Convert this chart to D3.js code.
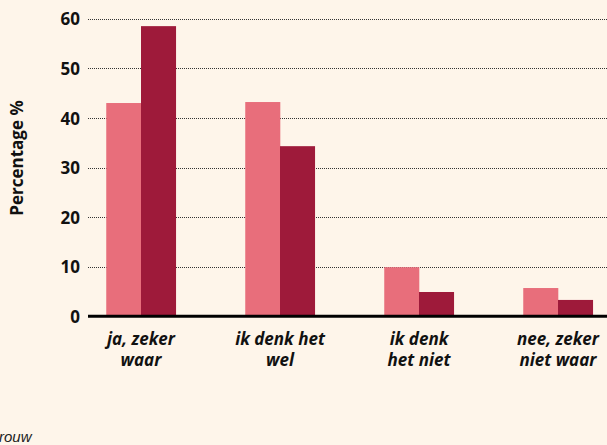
<!DOCTYPE html>
<html><head><meta charset="utf-8">
<script src="https://cdn.jsdelivr.net/npm/d3@7"></script>
<style>
html,body{margin:0;padding:0;background:#fef5ea;overflow:hidden;}
svg{display:block;}
</style></head>
<body>
<svg id="c" width="607" height="445"></svg>
<script>
const categories = [["ja, zeker","waar"],["ik denk het","wel"],["ik denk","het niet"],["nee, zeker","niet waar"]];
const seriesNames = ["a","b"];
const seriesA = [43.0, 43.2, 9.9, 5.7];
const seriesB = [58.5, 34.3, 4.9, 3.3];
const yTicks = [0,10,20,30,40,50,60];
const colors = ["#e86e7b","#9e1a3a"];
const yTitle = "Percentage %";
const footnote = "rouw";

const svg = d3.select("#c");
const W = 607, H = 445;
svg.append("rect").attr("width",W).attr("height",H).attr("fill","#fef5ea");

const y = d3.scaleLinear().domain([0,60]).range([316.3,18.7]);
const x0 = d3.scaleBand().domain(d3.range(categories.length)).range([71.5,627.5]).paddingInner(0.5).paddingOuter(0.25);
const x1 = d3.scaleBand().domain(seriesNames).range([0,x0.bandwidth()]);

// gridlines
const grid = svg.append("g");
grid.selectAll("line").data(yTicks.filter(t=>t>0)).join("line")
  .attr("x1",88).attr("x2",W)
  .attr("y1",d=>Math.round(y(d))+0.5).attr("y2",d=>Math.round(y(d))+0.5)
  .attr("stroke","#333").attr("stroke-width",1).attr("stroke-dasharray","1,1");

// bars
const data = categories.map((c,i)=>({i, vals:[seriesA[i],seriesB[i]]}));
const g = svg.append("g");
g.selectAll("g").data(data).join("g")
  .attr("transform",d=>`translate(${x0(d.i)},0)`)
  .selectAll("rect").data(d=>d.vals.map((v,k)=>({k,v}))).join("rect")
  .attr("x",d=>x1(seriesNames[d.k])).attr("width",x1.bandwidth()+0.3)
  .attr("y",d=>y(d.v)).attr("height",d=>y(0)-y(d.v))
  .attr("fill",d=>colors[d.k]);

// baseline
svg.append("line").attr("x1",88).attr("x2",W).attr("y1",y(0)).attr("y2",y(0))
  .attr("stroke","#000").attr("stroke-width",3);

// y axis labels
const yAxis = d3.axisLeft(y).tickValues(yTicks).tickSize(0).tickPadding(0);
const ya = svg.append("g").attr("transform","translate(80,0)").call(yAxis);
ya.select(".domain").remove();
ya.selectAll("text").attr("font-family","'Open Sans', sans-serif").attr("font-weight","bold")
  .attr("font-size","17px").attr("fill","#111").attr("dy","0.36em");

// y title
svg.append("text").attr("transform","translate(23,158) rotate(-90)")
  .attr("text-anchor","middle").attr("font-family","'Open Sans', sans-serif")
  .attr("font-weight","bold").attr("font-size","17px").attr("fill","#111").text(yTitle);

// x labels
const xl = svg.append("g");
xl.selectAll("text").data(categories).join("text")
  .attr("x",(d,i)=>x0(i)+x0.bandwidth()/2).attr("y",344.5)
  .attr("text-anchor","middle").attr("font-family","'Open Sans', sans-serif")
  .attr("font-weight","bold").attr("font-style","italic").attr("font-size","17px").attr("fill","#111")
  .each(function(d){
    const t = d3.select(this);
    d.forEach((line,k)=>{
      t.append("tspan").attr("x",t.attr("x")).attr("dy",k===0?0:21).text(line);
    });
  });

// footnote
svg.append("text").attr("x",-1).attr("y",442).attr("font-family","'Liberation Sans', Arial, sans-serif")
  .attr("font-style","italic").attr("font-size","15px").attr("fill","#222").text(footnote);
</script>
</body></html>
